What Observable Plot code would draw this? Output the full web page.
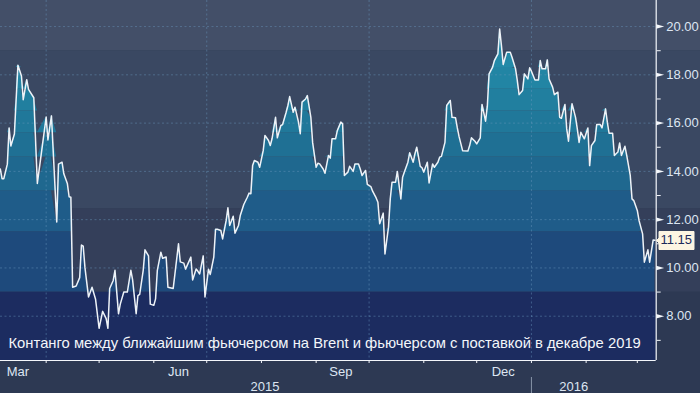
<!DOCTYPE html>
<html><head><meta charset="utf-8">
<script src="https://cdn.jsdelivr.net/npm/d3@7"></script>
<script src="https://cdn.jsdelivr.net/npm/@observablehq/plot@0.6"></script>
<style>
html,body{margin:0;padding:0;background:#2d3953;}
#chart{width:700px;height:393px;overflow:hidden;}
g[aria-label="tip"] text{fill:#1b2a5c !important;}
</style></head><body><div id="chart"></div>
<script>
// --- data ---
const dates = ["2015-03-06","2015-03-07","2015-03-08","2015-03-10","2015-03-11","2015-03-12","2015-03-14","2015-03-15","2015-03-16","2015-03-18","2015-03-19","2015-03-21","2015-03-22","2015-03-25","2015-03-27","2015-04-01","2015-04-02","2015-04-04","2015-04-07","2015-04-08","2015-04-10","2015-04-11","2015-04-13","2015-04-14","2015-04-15","2015-04-16","2015-04-18","2015-04-20","2015-04-21","2015-04-22","2015-04-23","2015-04-25","2015-04-27","2015-04-29","2015-05-01","2015-05-03","2015-05-05","2015-05-06","2015-05-07","2015-05-09","2015-05-10","2015-05-12","2015-05-13","2015-05-15","2015-05-17","2015-05-19","2015-05-20","2015-05-22","2015-05-23","2015-05-24","2015-05-26","2015-05-27","2015-05-29","2015-05-30","2015-06-01","2015-06-02","2015-06-03","2015-06-05","2015-06-06","2015-06-08","2015-06-09","2015-06-12","2015-06-15","2015-06-16","2015-06-18","2015-06-19","2015-06-22","2015-06-23","2015-06-25","2015-06-26","2015-06-27","2015-06-29","2015-06-30","2015-07-02","2015-07-03","2015-07-05","2015-07-06","2015-07-07","2015-07-09","2015-07-10","2015-07-12","2015-07-13","2015-07-14","2015-07-16","2015-07-17","2015-07-19","2015-07-20","2015-07-22","2015-07-24","2015-07-25","2015-07-26","2015-07-27","2015-07-28","2015-07-30","2015-07-31","2015-08-02","2015-08-03","2015-08-05","2015-08-06","2015-08-07","2015-08-09","2015-08-10","2015-08-12","2015-08-13","2015-08-15","2015-08-16","2015-08-17","2015-08-19","2015-08-20","2015-08-22","2015-08-23","2015-08-24","2015-08-26","2015-08-27","2015-08-29","2015-08-30","2015-09-01","2015-09-02","2015-09-03","2015-09-05","2015-09-06","2015-09-08","2015-09-09","2015-09-10","2015-09-12","2015-09-13","2015-09-15","2015-09-16","2015-09-17","2015-09-19","2015-09-20","2015-09-22","2015-09-23","2015-09-25","2015-09-26","2015-09-27","2015-09-29","2015-09-30","2015-10-02","2015-10-03","2015-10-05","2015-10-06","2015-10-07","2015-10-09","2015-10-10","2015-10-12","2015-10-13","2015-10-14","2015-10-16","2015-10-17","2015-10-19","2015-10-20","2015-10-21","2015-10-23","2015-10-24","2015-10-26","2015-10-27","2015-10-28","2015-10-30","2015-10-31","2015-11-01","2015-11-03","2015-11-04","2015-11-06","2015-11-07","2015-11-09","2015-11-10","2015-11-11","2015-11-13","2015-11-14","2015-11-16","2015-11-17","2015-11-19","2015-11-20","2015-11-21","2015-11-23","2015-11-26","2015-11-27","2015-11-28","2015-11-30","2015-12-01","2015-12-03","2015-12-04","2015-12-06","2015-12-07","2015-12-08","2015-12-10","2015-12-11","2015-12-13","2015-12-14","2015-12-15","2015-12-16","2015-12-18","2015-12-20","2015-12-21","2015-12-23","2015-12-24","2015-12-25","2015-12-27","2015-12-28","2015-12-30","2015-12-31","2016-01-01","2016-01-03","2016-01-05","2016-01-06","2016-01-07","2016-01-09","2016-01-10","2016-01-11","2016-01-13","2016-01-14","2016-01-16","2016-01-17","2016-01-18","2016-01-20","2016-01-21","2016-01-22","2016-01-24","2016-01-26","2016-01-27","2016-01-28","2016-01-29","2016-01-31","2016-02-02","2016-02-03","2016-02-04","2016-02-06","2016-02-07","2016-02-09","2016-02-10","2016-02-12","2016-02-13","2016-02-14","2016-02-16","2016-02-17","2016-02-19","2016-02-20","2016-02-21","2016-02-23","2016-02-24","2016-02-26","2016-02-27","2016-02-28","2016-03-01","2016-03-02","2016-03-04","2016-03-05","2016-03-07","2016-03-08","2016-03-10","2016-03-11"];
const values = [14.1,13.7,13.7,14.3,15.8,15.05,15.55,17.0,18.4,17.95,16.97,17.8,17.4,17.05,13.5,16.25,15.3,16.3,11.9,14.3,14.38,13.9,13.5,12.95,12.93,9.2,9.25,9.6,10.95,10.9,10.0,8.8,9.2,8.7,7.5,8.2,7.9,7.5,9.15,9.48,9.9,8.1,8.5,9.0,9.0,9.9,9.5,8.1,8.85,8.9,9.9,10.75,10.5,8.5,8.45,8.72,9.9,10.65,10.4,10.45,9.2,9.15,11.0,10.25,10.2,9.95,10.45,9.5,9.96,9.86,9.75,10.5,8.8,9.95,9.73,10.45,11.6,11.6,11.55,11.2,11.96,12.49,11.76,12.14,11.44,11.76,12.17,12.63,12.93,13.1,13.07,14.24,14.45,14.38,14.17,14.86,15.49,15.28,15.07,15.35,16.24,15.39,15.9,15.94,16.45,16.73,17.1,16.45,16.66,16.04,15.56,16.87,17.0,17.14,16.24,15.2,14.17,14.34,14.31,14.1,13.92,14.66,14.55,15.35,15.35,15.69,16.04,15.97,13.83,13.97,14.21,14.0,14.31,14.31,14.1,13.83,14.04,13.46,13.37,13.18,12.9,12.72,11.83,12.27,10.58,11.69,12.86,13.55,13.55,14.0,12.86,13.76,13.97,14.38,14.77,14.38,14.73,15.0,14.21,14.15,13.97,14.38,13.52,14.31,14.17,14.38,14.59,14.62,15.2,16.73,16.94,16.24,16.22,15.8,15.44,14.86,14.84,15.07,15.39,15.25,15.14,15.39,16.77,16.08,16.69,18.04,18.32,18.59,18.87,19.9,19.21,18.43,18.94,18.94,18.73,18.25,17.76,17.18,17.35,18.04,17.83,18.29,18.15,17.79,17.79,18.59,18.25,18.25,18.62,17.83,17.49,17.18,17.28,16.24,16.2,16.77,15.76,15.25,16.8,16.24,15.76,15.2,15.62,15.35,15.8,14.24,15.07,15.28,15.94,15.94,15.8,16.59,16.04,15.58,15.58,14.66,14.8,15.18,14.66,15.04,14.66,13.83,12.86,12.79,12.38,11.96,11.41,10.24,10.75,10.24,11.16,11.15];

const majorTicks = [8, 10, 12, 14, 16, 18, 20];
const minorTicks = [7, 9, 11, 13, 15, 17, 19];
const monthLabels = ["Mar", "Jun", "Sep", "Dec"];
const monthLabelDates = ["2015-03-16", "2015-06-15", "2015-09-15", "2015-12-16"];
const yearLabels = ["2015", "2016"];
const yearLabelDates = ["2015-08-03", "2016-01-25"];
const yearBoundary = ["2016-01-01"];
const caption = "Контанго между ближайшим фьючерсом на Brent и фьючерсом с поставкой в декабре 2019";

// --- scale extents and band styling ---
const xStart = new Date("2015-03-06T03:00Z");
const xEnd = new Date("2016-03-11T17:00Z");
const xFar = new Date("2016-04-20");
const yMin = 6.165, yMax = 21.08;

const bgBands = [
  {lo: yMin, hi: 9, fill: "#1c2c60", wide: false},
  {lo: 9, hi: 12.45, fill: "#343f5a", wide: true},
  {lo: 12.45, hi: 19, fill: "#3a4862", wide: true},
  {lo: 19, hi: yMax, fill: "#434f68", wide: true}
];
const areaEdges = [yMin, 9, 11.5, 13.2, 14.6, 15.6, 16.5, 17.4, 18.3, 30];
const areaColors = ["#1c2c60", "#1e4a7c", "#1f5c89", "#1f688f", "#1f7094", "#20789a", "#217f9f", "#2285a4", "#238aa8"];

const series = dates.map((d, i) => ({date: new Date(d), value: values[i]}));
const last = series[series.length - 1];
const txt = "#dde6f2";

const marks = [];
for (const b of bgBands) {
  marks.push(Plot.rect([b], {x1: () => xStart, x2: () => (b.wide ? xFar : xEnd), y1: "lo", y2: "hi", fill: b.fill, clip: false}));
}
for (let i = 0; i < areaColors.length; i++) {
  const lo = areaEdges[i], hi = areaEdges[i + 1];
  marks.push(Plot.areaY(series, {x: "date", y1: () => lo, y2: d => Math.max(lo, Math.min(d.value, hi)), fill: areaColors[i]}));
}
marks.push(
  Plot.gridY(majorTicks, {stroke: "#6a98bf", strokeOpacity: 0.45, strokeDasharray: "2,2.5"}),
  Plot.gridX({ticks: "3 months", stroke: "#6a98bf", strokeOpacity: 0.45, strokeDasharray: "2,2.5"}),
  Plot.line(series, {x: "date", y: "value", stroke: "#eef3f8", strokeWidth: 1.5}),
  Plot.ruleY([yMin], {stroke: "#f4f7fb", strokeWidth: 1.2}),
  Plot.ruleX([xEnd], {stroke: "#f4f7fb", strokeWidth: 1.2}),
  Plot.axisX({ticks: "month", anchor: "bottom", tickSize: 3, text: null, stroke: "#f4f7fb"}),
  Plot.axisX(yearBoundary.map(d => new Date(d)), {anchor: "bottom", tickSize: 16, dy: 17, text: null, stroke: "#8894a8"}),
  Plot.axisY(minorTicks, {anchor: "right", tickSize: 4, text: null, stroke: "#f4f7fb"}),
  Plot.axisY(majorTicks, {anchor: "right", tickSize: 0, tickPadding: 10, tickFormat: d => d.toFixed(2), fill: txt, fontSize: 13}),
  Plot.vector(majorTicks, {y: d => d, x: () => xEnd, rotate: 90, length: 8, shape: "spike", anchor: "start", r: 2.2, fill: "#f4f7fb", stroke: "none"}),
  Plot.text(monthLabels, {x: (d, i) => new Date(monthLabelDates[i]), text: d => d, frameAnchor: "bottom", lineAnchor: "top", dy: 6, fill: txt, fontSize: 13}),
  Plot.text(yearLabels, {x: (d, i) => new Date(yearLabelDates[i]), text: d => d, frameAnchor: "bottom", lineAnchor: "top", dy: 21, fill: txt, fontSize: 13}),
  Plot.text([caption], {text: d => d, frameAnchor: "bottom-left", dx: 8, dy: -13, textAnchor: "start", lineAnchor: "bottom", fill: "#f3f6fa", fontSize: 14.8}),
  Plot.tip([last], {x: () => xEnd, y: "value", anchor: "left", title: d => d.value.toFixed(2), fill: "#fdf5e2", stroke: "#fdf5e2", pathFilter: "none", fontSize: 13, textPadding: 1.5, pointerSize: 5})
);

const chart = Plot.plot({
  width: 700, height: 393,
  marginTop: 0, marginLeft: 0, marginRight: 44.3, marginBottom: 33,
  x: {type: "utc", domain: [xStart, xEnd], axis: null},
  y: {domain: [yMin, yMax], axis: null},
  style: {background: "transparent", color: txt, fontFamily: "'Liberation Sans', Arial, sans-serif", fontSize: "13px"},
  marks
});
document.getElementById("chart").appendChild(chart);
</script></body></html>
